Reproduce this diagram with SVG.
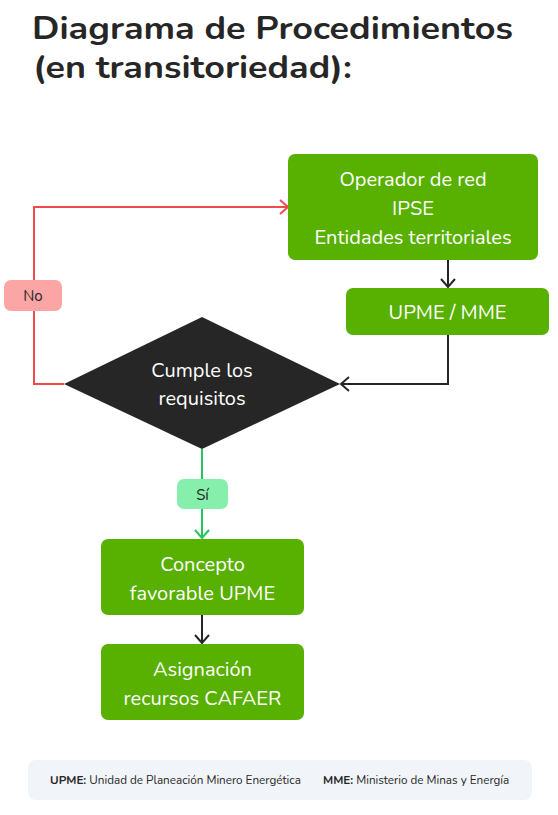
<svg xmlns="http://www.w3.org/2000/svg" width="558" height="815" viewBox="0 0 558 815">
<style>
.title{font-family:"Nunito","Open Sans","Liberation Sans",sans-serif;font-weight:700;font-size:32px;fill:#262626}
.box{fill:#58B000}
.bt{font-family:"Nunito","Open Sans","Liberation Sans",sans-serif;font-size:20px;fill:#ffffff;text-anchor:middle}
.lbl{font-family:"Nunito","Open Sans","Liberation Sans",sans-serif;font-size:15px;fill:#262626;text-anchor:middle}
.leg{font-family:"Nunito","Open Sans","Liberation Sans",sans-serif;font-size:11.7px;fill:#262626}
.c{fill:none;stroke-width:2}
</style>
<defs>
<marker id="ak" markerUnits="userSpaceOnUse" markerWidth="14" markerHeight="16" refX="9" refY="8" orient="auto">
<path d="M1,1 L9,8 L1,15" fill="none" stroke="#262626" stroke-width="2"/>
</marker>
<marker id="ar" markerUnits="userSpaceOnUse" markerWidth="14" markerHeight="16" refX="9" refY="8" orient="auto">
<path d="M1,1 L9,8 L1,15" fill="none" stroke="#F04A4A" stroke-width="2"/>
</marker>
<marker id="ag" markerUnits="userSpaceOnUse" markerWidth="14" markerHeight="16" refX="9" refY="8" orient="auto">
<path d="M1,1 L9,8 L1,15" fill="none" stroke="#22C55E" stroke-width="2"/>
</marker>
</defs>
<rect width="558" height="815" fill="#ffffff"/>
<g id="title">
<text class="title" x="32" y="38.5" textLength="481" lengthAdjust="spacingAndGlyphs">Diagrama de Procedimientos</text>
<text class="title" x="33" y="78" textLength="319" lengthAdjust="spacingAndGlyphs">(en transitoriedad):</text>
</g>
<g id="connectors">
<path class="c" d="M448,260 V287" stroke="#262626" marker-end="url(#ak)"/>
<path class="c" d="M448,335 V384 H341" stroke="#262626" marker-end="url(#ak)"/>
<path class="c" d="M64,384 H34 V207 H288" stroke="#F04A4A" marker-end="url(#ar)"/>
<path class="c" d="M202,449 V538" stroke="#22C55E" marker-end="url(#ag)"/>
<path class="c" d="M202,615 V643" stroke="#262626" marker-end="url(#ak)"/>
</g>
<g id="label-no">
<rect x="4" y="280" width="58" height="31" rx="7" fill="#FCA5A5"/>
<text class="lbl" x="33" y="301">No</text>
</g>
<g id="label-si">
<rect x="177" y="479" width="51" height="30" rx="7" fill="#86EFAC"/>
<text class="lbl" x="202.5" y="499.5">Sí</text>
</g>
<g id="node-operador">
<rect class="box" x="288" y="154" width="250" height="106" rx="7"/>
<text class="bt" x="413" y="186">Operador de red</text>
<text class="bt" x="413" y="215">IPSE</text>
<text class="bt" x="413" y="244">Entidades territoriales</text>
</g>
<g id="node-upme">
<rect class="box" x="346" y="288" width="203" height="47" rx="7"/>
<text class="bt" x="447.5" y="318.5">UPME / MME</text>
</g>
<g id="node-decision">
<polygon points="202,317 340,384 202,449 64,384" fill="#262626"/>
<text class="bt" x="202" y="377">Cumple los</text>
<text class="bt" x="202" y="405">requisitos</text>
</g>
<g id="node-concepto">
<rect class="box" x="101" y="539" width="203" height="76" rx="7"/>
<text class="bt" x="202.5" y="570.5">Concepto</text>
<text class="bt" x="202.5" y="599.5">favorable UPME</text>
</g>
<g id="node-asignacion">
<rect class="box" x="101" y="644" width="203" height="76" rx="7"/>
<text class="bt" x="202.5" y="675.5">Asignación</text>
<text class="bt" x="202.5" y="704.5">recursos CAFAER</text>
</g>
<g id="legend">
<rect x="28" y="760" width="504" height="40" rx="8" fill="#F1F5F9"/>
<text class="leg" x="50" y="784"><tspan font-weight="700">UPME:</tspan> Unidad de Planeación Minero Energética</text>
<text class="leg" x="323" y="784"><tspan font-weight="700">MME:</tspan> Ministerio de Minas y Energía</text>
</g>
</svg>
